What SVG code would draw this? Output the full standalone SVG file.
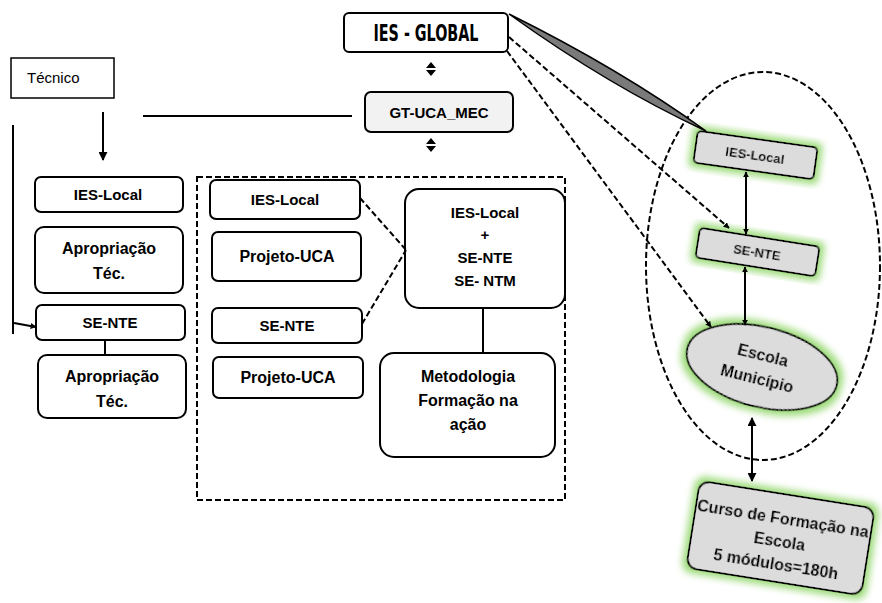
<svg xmlns="http://www.w3.org/2000/svg" width="882" height="603" viewBox="0 0 882 603">
<defs>
<style>
.box{fill:#fff;stroke:#000;stroke-width:2}
.gbox{fill:#dcdcdc;stroke:#000;stroke-width:2}
.t{font-family:"Liberation Sans",Arial,sans-serif;font-weight:bold;font-size:16px;fill:#000;text-anchor:middle}
.s{font-size:15px}
.r{font-size:13px}
.n{font-family:"Liberation Sans",Arial,sans-serif;font-size:15px;fill:#000}
.dash{fill:none;stroke:#000;stroke-width:2;stroke-dasharray:6 3}
.ln{fill:none;stroke:#000;stroke-width:2}
</style>
<marker id="ah" viewBox="0 0 10 10" refX="9" refY="5" markerWidth="6" markerHeight="6" orient="auto-start-reverse" markerUnits="userSpaceOnUse">
<path d="M0,0 L10,5 L0,10 z" fill="#000"/>
</marker>
<marker id="ah2" viewBox="0 0 10 10" refX="9" refY="5" markerWidth="9" markerHeight="9" orient="auto-start-reverse" markerUnits="userSpaceOnUse">
<path d="M0,0 L10,5 L0,10 z" fill="#000"/>
</marker>
<filter id="glow" x="-20%" y="-30%" width="140%" height="160%">
<feMorphology in="SourceAlpha" operator="dilate" radius="4" result="d"/>
<feGaussianBlur in="d" stdDeviation="3.5" result="b"/>
<feFlood flood-color="#9edb7c"/>
<feComposite in2="b" operator="in" result="g"/>
<feMerge><feMergeNode in="g"/><feMergeNode in="SourceGraphic"/></feMerge>
</filter>
</defs>

<g id="group-ellipse"><ellipse class="dash" cx="763" cy="266" rx="117" ry="194"/></g>
<g id="group-rect"><rect class="dash" x="197" y="177" width="368" height="323"/></g>

<g id="ies-global">
<rect class="box" x="344" y="13" width="164" height="39" rx="5"/>
<text transform="translate(0,41) scale(1,1.3)" x="426" y="0" font-family="'Liberation Sans Narrow','DejaVu Sans Condensed','Liberation Sans',sans-serif" font-weight="bold" font-size="18" text-anchor="middle" textLength="105" lengthAdjust="spacingAndGlyphs">IES - GLOBAL</text>
</g>
<g id="gt-uca">
<rect x="365" y="92" width="148" height="40" rx="6" fill="#f2f2f2" stroke="#000" stroke-width="2"/>
<text class="t s" x="439" y="118">GT-UCA_MEC</text>
</g>

<g id="tecnico">
<rect x="11" y="58" width="103" height="40" fill="#fff" stroke="#000" stroke-width="1.5"/>
<text class="n" x="27" y="83">Técnico</text>
</g>
<g id="l-ies-local"><rect class="box" x="35" y="177" width="148" height="35" rx="6"/><text class="t s" x="108" y="200">IES-Local</text></g>
<g id="l-aprop1"><rect class="box" x="35" y="227" width="148" height="66" rx="9"/><text class="t" x="109" y="254" font-size="17">Apropriação</text><text class="t" x="109" y="279" font-size="17">Téc.</text></g>
<g id="l-se-nte"><rect class="box" x="36" y="305" width="149" height="35" rx="6"/><text class="t s" x="110" y="328">SE-NTE</text></g>
<g id="l-aprop2"><rect class="box" x="38" y="355" width="148" height="63" rx="9"/><text class="t" x="112" y="382" font-size="17">Apropriação</text><text class="t" x="112" y="407" font-size="17">Téc.</text></g>

<g id="m-ies-local"><rect class="box" x="210" y="180" width="150" height="39" rx="6"/><text class="t s" x="285" y="205">IES-Local</text></g>
<g id="m-projeto1"><rect class="box" x="212" y="232" width="149" height="49" rx="6"/><text class="t" x="287" y="262">Projeto-UCA</text></g>
<g id="m-se-nte"><rect class="box" x="212" y="308" width="150" height="35" rx="6"/><text class="t s" x="287" y="331">SE-NTE</text></g>
<g id="m-projeto2"><rect class="box" x="213" y="357" width="150" height="41" rx="6"/><text class="t" x="288" y="383">Projeto-UCA</text></g>
<g id="m-combo"><rect class="box" x="405" y="189" width="160" height="119" rx="14"/>
<text class="t s" x="485" y="218">IES-Local</text><text class="t s" x="485" y="240">+</text><text class="t s" x="485" y="263">SE-NTE</text><text class="t s" x="485" y="286">SE- NTM</text></g>
<g id="m-metod"><rect class="box" x="380" y="353" width="175" height="104" rx="14"/>
<text class="t" x="468" y="382">Metodologia</text><text class="t" x="468" y="406">Formação na</text><text class="t" x="468" y="430">ação</text></g>

<g id="r-ies-local" filter="url(#glow)" transform="rotate(8 755 155)">
<rect class="gbox" x="695" y="139" width="121" height="32" rx="4"/>
<text class="t r" x="755" y="160">IES-Local</text></g>
<g id="r-se-nte" filter="url(#glow)" transform="rotate(9 757 252)">
<rect class="gbox" x="697" y="237" width="121" height="30" rx="4"/>
<text class="t r" x="757" y="257">SE-NTE</text></g>
<g id="r-escola" filter="url(#glow)" transform="rotate(14 762 367)">
<ellipse cx="762" cy="367" rx="77" ry="40" fill="#dcdcdc" stroke="#000" stroke-width="2"/>
<text class="t" x="760" y="361" font-size="14.5">Escola</text><text class="t" x="760" y="385" font-size="14.5">Município</text></g>
<g id="r-curso" filter="url(#glow)" transform="rotate(9 780 538)">
<rect class="gbox" x="692" y="494" width="177" height="88" rx="10"/>
<text class="t" x="780" y="524" font-size="13.5">Curso de Formação na</text>
<text class="t" x="780" y="547" font-size="13.5">Escola</text>
<text class="t" x="780" y="570" font-size="13.5">5 módulos=180h</text></g>

<g id="connectors">
<path d="M509,14 Q620,69 706,131 Q609,86 509,14 Z" fill="#7a7a7a" stroke="#000" stroke-width="1.5"/>
<line class="dash" x1="509" y1="37" x2="729" y2="228" marker-end="url(#ah)"/>
<line class="dash" x1="507" y1="51" x2="711" y2="327" marker-end="url(#ah)"/>
<line class="ln" x1="143" y1="116" x2="352" y2="116"/>
<line class="ln" x1="103" y1="112" x2="103" y2="160" marker-end="url(#ah2)"/>
<line class="ln" x1="13" y1="125" x2="13" y2="334"/>
<line class="ln" x1="14" y1="323" x2="36" y2="327" stroke-width="1.5" marker-end="url(#ah)"/>
<line class="ln" x1="105" y1="340" x2="105" y2="355" stroke-width="1.5"/>
<line class="dash" x1="360" y1="198" x2="406" y2="250"/>
<line class="dash" x1="362" y1="324" x2="406" y2="250"/>
<line class="ln" x1="483" y1="308" x2="483" y2="353" stroke-width="1.5"/>
<line class="ln" x1="746" y1="172" x2="746" y2="234" marker-start="url(#ah)" marker-end="url(#ah)"/>
<line class="ln" x1="745" y1="267" x2="745" y2="325" marker-start="url(#ah)" marker-end="url(#ah)"/>
<line class="ln" x1="752" y1="418" x2="752" y2="481" marker-start="url(#ah2)" marker-end="url(#ah2)"/>
<path d="M426,68 L431,62 L436,68 Z M426,70 L431,76 L436,70 Z" fill="#000"/>
<path d="M426,144 L431,138 L436,144 Z M426,146 L431,152 L436,146 Z" fill="#000"/>
</g>
</svg>
